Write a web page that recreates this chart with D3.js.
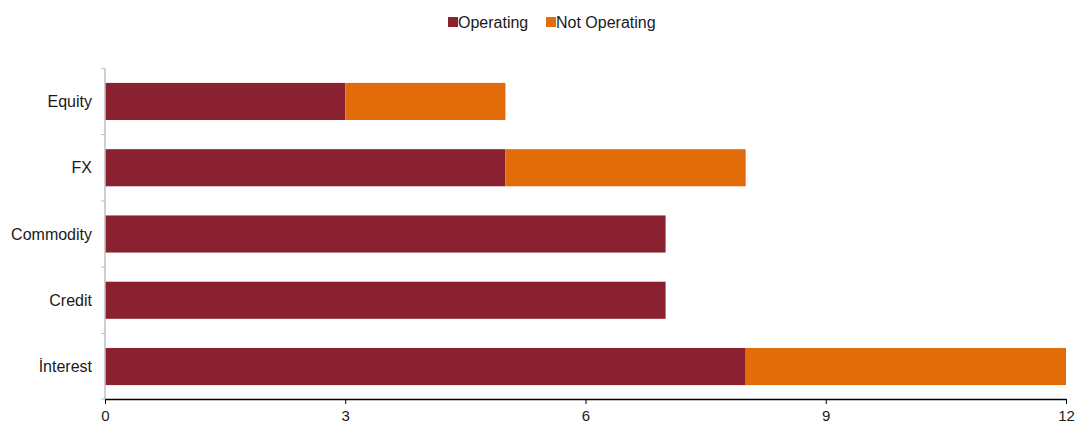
<!DOCTYPE html>
<html>
<head>
<meta charset="utf-8">
<script src="https://cdn.jsdelivr.net/npm/d3@7"></script>
<style>
  body { margin: 0; background: #fff; }
  text { font-family: "Liberation Sans", Arial, sans-serif; }
</style>
</head>
<body>
<script>
// data
var categories = ["Equity", "FX", "Commodity", "Credit", "İnterest"];
var operating = [3, 5, 7, 7, 8];
var notOperating = [2, 3, 0, 0, 4];
var seriesNames = ["Operating", "Not Operating"];
var colors = ["#8a2131", "#e36c0a"];
var xTicks = [0, 3, 6, 9, 12];

var width = 1075, height = 425;
var margin = {top: 69, right: 9, bottom: 26, left: 105};

var svg = d3.select("body").append("svg")
    .attr("width", width)
    .attr("height", height);

var x = d3.scaleLinear().domain([0, 12]).range([margin.left, width - margin.right]);
var y = d3.scaleBand().domain(categories)
    .range([margin.top, height - margin.bottom])
    .paddingInner(0.44).paddingOuter(0.21);

var data = categories.map(function(c, i) {
  return {cat: c, Operating: operating[i], "Not Operating": notOperating[i]};
});
var stacked = d3.stack().keys(seriesNames)(data);

// bars
svg.append("g").selectAll("g")
  .data(stacked)
  .enter().append("g")
    .attr("fill", function(d, i) { return colors[i]; })
  .selectAll("rect")
  .data(function(d) { return d; })
  .enter().append("rect")
    .attr("x", function(d) { return x(d[0]); })
    .attr("y", function(d) { return y(d.data.cat); })
    .attr("width", function(d) { return x(d[1]) - x(d[0]); })
    .attr("height", y.bandwidth());

// y axis (gray)
var yAxis = svg.append("g")
    .attr("transform", "translate(" + margin.left + ",0)");
yAxis.append("line")
    .attr("x1", 0).attr("x2", 0)
    .attr("y1", margin.top).attr("y2", height - margin.bottom)
    .attr("stroke", "#bfbfbf").attr("stroke-width", 1.5);
var bounds = categories.map(function(c) { return y(c) - y.step() * y.paddingInner() / 2; });
bounds.push(height - margin.bottom);
yAxis.selectAll(".tk").data(bounds).enter().append("line")
    .attr("x1", -4).attr("x2", 0)
    .attr("y1", function(d) { return d; }).attr("y2", function(d) { return d; })
    .attr("stroke", "#bfbfbf").attr("stroke-width", 1);
yAxis.selectAll(".lbl").data(categories).enter().append("text")
    .attr("x", -13)
    .attr("y", function(d) { return y(d) + y.bandwidth() / 2; })
    .attr("dy", "0.35em")
    .attr("text-anchor", "end")
    .attr("font-size", "16px")
    .attr("fill", "#1a1a1a")
    .text(function(d) { return d; });

// x axis
var xAxis = svg.append("g")
    .attr("transform", "translate(0," + (height - margin.bottom) + ")")
    .call(d3.axisBottom(x).tickValues(xTicks).tickSize(5).tickSizeOuter(0).tickPadding(6));
xAxis.select(".domain").attr("stroke", "#000").attr("stroke-width", 1.5);
xAxis.selectAll(".tick line").attr("stroke", "#000");
xAxis.selectAll(".tick text")
    .attr("font-family", "Liberation Sans, Arial, sans-serif")
    .attr("font-size", "15px").attr("fill", "#1a1a1a");

// legend
var legend = svg.append("g");
var lx = [448, 546];
seriesNames.forEach(function(s, i) {
  legend.append("rect")
      .attr("x", lx[i]).attr("y", 17)
      .attr("width", 10).attr("height", 10)
      .attr("fill", colors[i]);
  legend.append("text")
      .attr("x", lx[i] + 10).attr("y", 22.5)
      .attr("dy", "0.35em")
      .attr("font-size", "16px")
      .attr("fill", "#1a1a1a")
      .text(s);
});
</script>
</body>
</html>
